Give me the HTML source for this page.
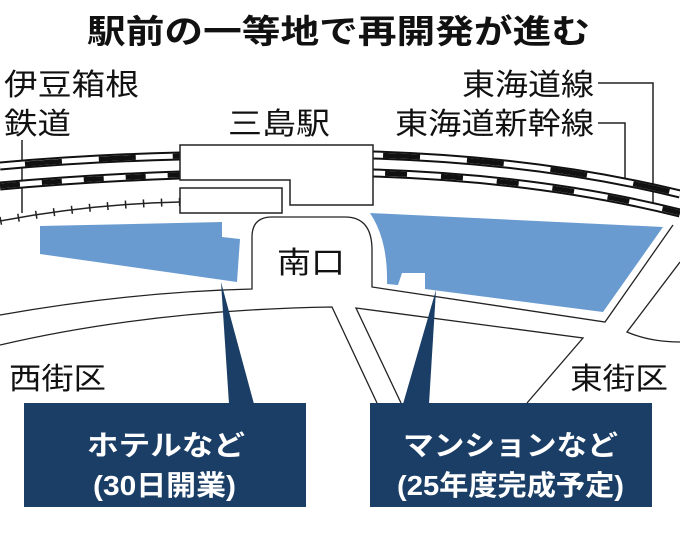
<!DOCTYPE html>
<html><head><meta charset="utf-8">
<style>
html,body{margin:0;padding:0;background:#fff;}
svg{display:block;}
text{font-family:"Liberation Sans","Noto Sans CJK JP",sans-serif;}
</style></head>
<body>
<svg width="680" height="548" viewBox="0 0 680 548" xmlns="http://www.w3.org/2000/svg">
<rect width="680" height="548" fill="#fff"/>
<!-- title -->
<text x="87" y="43" font-size="33" font-weight="bold" fill="#111" textLength="503" lengthAdjust="spacingAndGlyphs">駅前の一等地で再開発が進む</text>
<!-- labels -->
<g font-size="30" fill="#111">
<text x="4" y="95" textLength="135" lengthAdjust="spacingAndGlyphs">伊豆箱根</text>
<text x="4" y="134" textLength="67" lengthAdjust="spacingAndGlyphs">鉄道</text>
<text x="228" y="134" textLength="102" lengthAdjust="spacingAndGlyphs">三島駅</text>
<text x="462" y="95" textLength="132" lengthAdjust="spacingAndGlyphs">東海道線</text>
<text x="395" y="134" textLength="199" lengthAdjust="spacingAndGlyphs">東海道新幹線</text>
<text x="277" y="273" textLength="68" lengthAdjust="spacingAndGlyphs">南口</text>
<text x="9" y="389" textLength="97" lengthAdjust="spacingAndGlyphs">西街区</text>
<text x="570" y="389" textLength="98" lengthAdjust="spacingAndGlyphs">東街区</text>
</g>
<!-- leaders -->
<g stroke="#222" stroke-width="1.5" fill="none">
<line x1="22" y1="140" x2="22" y2="213"/>
<polyline points="598,83 653,83 653,203"/>
<polyline points="598,123 625,123 625,178"/>
</g>
<!-- rail tracks -->
<g fill="none">
<path d="M0,166 Q90,158 180,156" stroke="#111" stroke-width="9"/>
<path d="M0,166 Q90,158 180,156" stroke="#fff" stroke-width="5"/>
<path d="M25,164 Q100,158 180,156" stroke="#111" stroke-width="5" stroke-dasharray="37,37"/>
<path d="M0,186 Q90,178 180,175" stroke="#111" stroke-width="9"/>
<path d="M0,186 Q90,178 180,175" stroke="#fff" stroke-width="5"/>
<path d="M0,186 Q90,178 180,175" stroke="#111" stroke-width="5" stroke-dasharray="20,22"/>
<path d="M373,155 Q540,160 680,194" stroke="#111" stroke-width="9"/>
<path d="M373,155 Q540,160 680,194" stroke="#fff" stroke-width="5"/>
<path d="M373,155 Q540,160 680,194" stroke="#111" stroke-width="5" stroke-dasharray="0,10,37,37"/>
<path d="M373,173 Q540,178 680,213" stroke="#111" stroke-width="9"/>
<path d="M373,173 Q540,178 680,213" stroke="#fff" stroke-width="5"/>
<path d="M373,173 Q540,178 680,213" stroke="#111" stroke-width="5" stroke-dasharray="0,12,22,22"/>
<path d="M0,221 Q90,204 180,202" stroke="#222" stroke-width="1.5"/>
<path d="M0,221 Q90,204 180,202" stroke="#222" stroke-width="8" stroke-dasharray="1.5,16.5"/>
</g>
<!-- station -->
<g fill="#fff" stroke="#222" stroke-width="1.5">
<polygon points="180,145 373,145 373,205 290,205 290,180 180,180"/>
<rect x="180" y="188" width="102" height="25"/>
</g>
<!-- roads -->
<g fill="none" stroke="#222" stroke-width="1.3">
<path d="M0,315 Q130,292 252,289 L252,237 Q252,217 272,217 L345,217 Q372,217 372,250 L372,287 L605,322 L673,225"/>
<path d="M0,345 Q150,310 332,307 L377,403"/>
<path d="M401,403 L356,308 L583,338 L527,403"/>
<path d="M680,262 L627,332 Q650,342 680,342"/>
</g>
<!-- blue areas -->
<g fill="#6a9bd0">
<polygon points="40,226 222,222 222,237 240,239 237,282 40,254"/>
<path d="M370,213 L663,227 L603,312 L425,289 L425,273 L402,273 L398,285 L387,284 Q388,240 370,213 Z"/>
</g>
<!-- pointers & boxes -->
<g fill="#1b3e66">
<polygon points="221,282 229,404 254,404"/>
<polygon points="436,290 403,404 429,404"/>
<rect x="24" y="403" width="282" height="104"/>
<rect x="370" y="403" width="282" height="104"/>
</g>
<g fill="#fff" font-weight="bold" font-size="28">
<text x="87" y="455" textLength="158" lengthAdjust="spacingAndGlyphs">ホテルなど</text>
<text x="93" y="495" textLength="143" lengthAdjust="spacingAndGlyphs">(30日開業)</text>
<text x="403" y="455" textLength="215" lengthAdjust="spacingAndGlyphs">マンションなど</text>
<text x="397" y="495" textLength="227" lengthAdjust="spacingAndGlyphs">(25年度完成予定)</text>
</g>
</svg>
</body></html>
